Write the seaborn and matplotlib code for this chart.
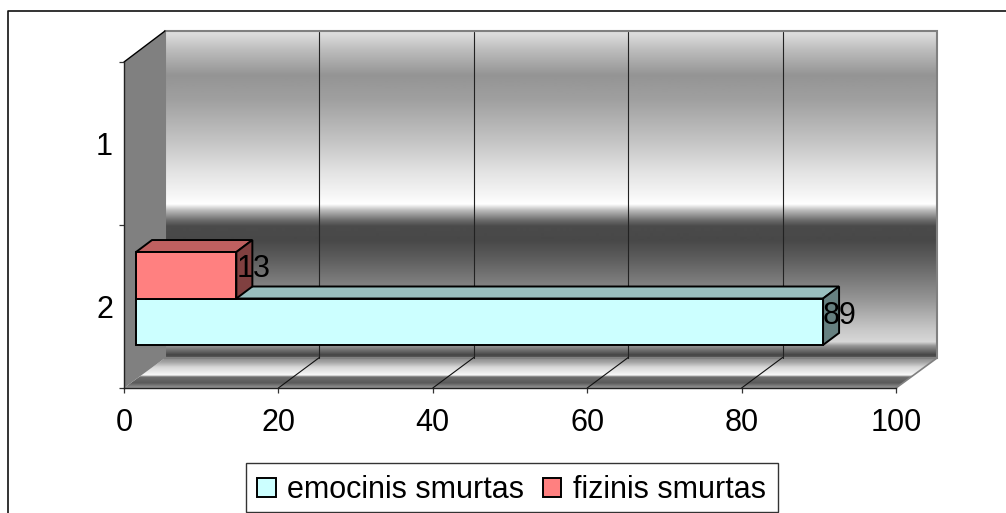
import numpy as np
import pandas as pd
import matplotlib
matplotlib.use("Agg")
import matplotlib.pyplot as plt
from matplotlib.patches import Polygon, Rectangle
from matplotlib.transforms import Affine2D, IdentityTransform
import seaborn as sns

# values
categories = ['1', '2']
series_names = ['emocinis smurtas', 'fizinis smurtas']
emocinis = [np.nan, 89]
fizinis = [np.nan, 13]
x_ticks = [0, 20, 40, 60, 80, 100]

colors = {'emocinis smurtas': '#CCFFFF', 'fizinis smurtas': '#FF8080'}
top_colors = {'emocinis smurtas': '#99BFBF', 'fizinis smurtas': '#BF6060'}
side_colors = {'emocinis smurtas': '#668080', 'fizinis smurtas': '#804040'}

dt = pd.DataFrame({'cat': categories, series_names[0]: emocinis, series_names[1]: fizinis})
dt = dt.melt(id_vars='cat', var_name='type', value_name='val')

sns.set_theme(style='white')
plt.rcParams['font.family'] = ['Liberation Sans', 'DejaVu Sans']
fs = 22

W, H = 1006, 513
fig = plt.figure(figsize=(W / 100, H / 100), dpi=100, facecolor='white')

# background layer in pixel coords: walls, floor, frame
bg = fig.add_axes([0, 0, 1, 1], zorder=0)
bg.axis('off')

wall_y = [31, 50, 75, 100, 140, 170, 200, 204, 210, 220, 226, 240, 260, 300, 330, 342, 346, 355, 358]
wall_g = [225, 188, 148, 160, 195, 225, 250, 255, 190, 110, 75, 72, 95, 150, 200, 215, 150, 70, 90]
yy = np.arange(31, 358.5, 0.5)
grad = np.interp(yy, wall_y, wall_g)[:, None]
bg.imshow(grad, cmap='gray', vmin=0, vmax=255, extent=(165, 937, 358, 31), aspect='auto', zorder=1)
bg.add_patch(Polygon([(165, 31), (937, 31), (937, 358), (165, 358)], closed=True, fill=False,
                     edgecolor='#808080', lw=1.5, zorder=2))

floor_y = [358, 362, 367, 375, 377, 383, 388]
floor_g = [140, 165, 215, 248, 110, 90, 150]
yy = np.arange(358, 388.5, 0.5)
grad = np.interp(yy, floor_y, floor_g)[:, None]
im = bg.imshow(grad, cmap='gray', vmin=0, vmax=255, extent=(124, 937, 388, 358), aspect='auto', zorder=1)
floor = Polygon([(124, 388), (896, 388), (937, 358), (165, 358)], closed=True, transform=bg.transData,
                facecolor='none', edgecolor='none')
bg.add_patch(floor)
im.set_clip_path(floor)
bg.plot([896, 937], [388, 358], color='#808080', lw=1.2, zorder=2)

bg.add_patch(Polygon([(124, 62), (165, 31), (165, 358), (124, 388)], closed=True,
                     facecolor='#808080', edgecolor='none', zorder=2))
bg.plot([124, 165], [62, 31], color='black', lw=1, zorder=3)
bg.plot([8, 8, 1006], [513, 11, 11], color='#111111', lw=1.2, zorder=3, clip_on=False)
# legend box
bg.add_patch(Rectangle((246, 463), 532, 49, facecolor='white', edgecolor='#333333', lw=1, zorder=3))
bg.set_xlim(0, W)
bg.set_ylim(H, 0)

# front plane holds the real axes
ax = fig.add_axes([124 / W, (H - 388) / H, 772 / W, 326 / H], zorder=1)
ax.patch.set_alpha(0)
sns.barplot(data=dt, y='cat', x='val', hue='type', order=categories, hue_order=series_names[::-1],
            palette=colors, width=0.57, gap=0, saturation=1, edgecolor='black', linewidth=1.4,
            orient='h', ax=ax)
ax.set_xlim(0, 100)
ax.set_ylim(1.5, -0.5)
ax.set_xlabel('')
ax.set_ylabel('')

# bars sit a bit behind the front plane, and get a top and side face
shift = Affine2D().translate(12, 8)
dx, dy = 16, 12
handles, labels = ax.get_legend_handles_labels()
for cont, name in zip(ax.containers, series_names[::-1]):
    z = 3 if name == series_names[0] else 4
    for bar in cont:
        w = bar.get_width()
        if not np.isfinite(w) or w == 0:
            continue
        bar.set_transform(ax.transData + shift)
        bar.set_zorder(z + 0.5)
        bar.set_clip_on(False)
        (x0, y0), (x1, y1) = (ax.transData + shift).transform(
            [(bar.get_x(), bar.get_y() + bar.get_height()), (bar.get_x() + w, bar.get_y())])
        top = [(x0, y1), (x1, y1), (x1 + dx, y1 + dy), (x0 + dx, y1 + dy)]
        side = [(x1, y0), (x1, y1), (x1 + dx, y1 + dy), (x1 + dx, y0 + dy)]
        for pts, col in [(top, top_colors[name]), (side, side_colors[name])]:
            ax.add_patch(Polygon(pts, closed=True, transform=IdentityTransform(), facecolor=col,
                                 edgecolor='black', lw=1.4, zorder=z, clip_on=False))
        ax.annotate(f'{w:.0f}', xy=(w, bar.get_y() + bar.get_height() / 2), xytext=(12, 14),
                    textcoords='offset pixels', ha='left', va='center', fontsize=fs,
                    color='black', zorder=6, annotation_clip=False)

# grid on back wall and floor
back = Affine2D().translate(41, 30.5)
for v in x_ticks[1:-1]:
    ax.plot([v, v], [1.5, -0.5], transform=ax.transData + back, color='#222222', lw=0.8,
            clip_on=False, zorder=0.5)
    p = ax.transData.transform((v, 1.5))
    ax.plot([p[0], p[0] + 41], [p[1], p[1] + 30.5], transform=IdentityTransform(), color='#111111',
            lw=0.8, clip_on=False, zorder=0.5)

ax.set_xticks(x_ticks)
ax.set_yticks([0, 1])
ax.set_yticklabels(categories)
ax.set_yticks([-0.5, 0.5, 1.5], minor=True)
ax.tick_params(axis='x', length=3.6, width=0.9, color='#333333', pad=11, labelsize=fs, bottom=True, labelcolor='black')
ax.tick_params(axis='y', which='major', length=0, pad=8, labelsize=fs, labelcolor='black')
ax.tick_params(axis='y', which='minor', length=3.6, width=0.9, color='#333333', left=True)
for s in ['top', 'right']:
    ax.spines[s].set_visible(False)
for s in ['left', 'bottom']:
    ax.spines[s].set_color('#222222')
    ax.spines[s].set_linewidth(1)
    ax.spines[s].set_zorder(2.5)

order = [labels.index(n) for n in series_names]
ax.legend([handles[i] for i in order], [labels[i] for i in order], ncol=2, loc='center',
          bbox_to_anchor=(511.5 / W, (H - 490.5) / H), bbox_transform=fig.transFigure,
          fontsize=fs, labelcolor='black', frameon=False,
          handlelength=0.6, handleheight=0.6, handletextpad=0.38, columnspacing=0.6,
          borderpad=0.36, borderaxespad=0)

fig.savefig('out.png', dpi=100)
